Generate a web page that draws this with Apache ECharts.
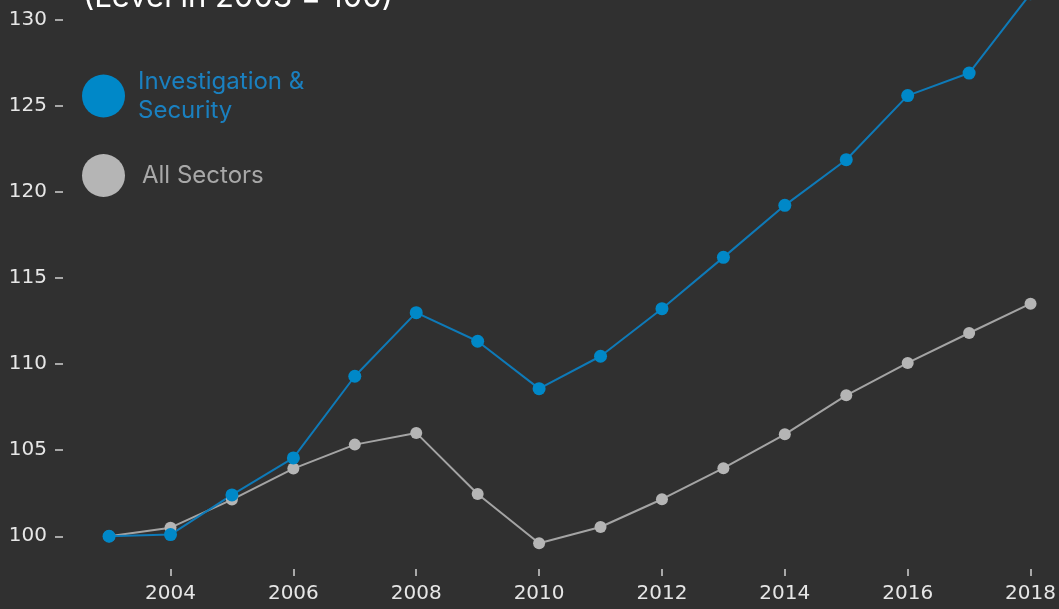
<!DOCTYPE html>
<html>
<head>
<meta charset="utf-8">
<script src="https://cdn.jsdelivr.net/npm/echarts@6/dist/echarts.min.js"></script>
<style>
html,body{margin:0;padding:0;background:#303030;}
#chart{width:1059px;height:609px;}
</style>
</head>
<body>
<div id="chart"></div>
<script>
const years = [2003,2004,2005,2006,2007,2008,2009,2010,2011,2012,2013,2014,2015,2016,2017,2018];
const investigationSecurity = [100,100.1,102.4,104.55,109.29,112.98,111.32,108.57,110.45,113.21,116.19,119.21,121.86,125.58,126.89,131.5];
const allSectors = [100,100.5,102.13,103.93,105.32,106.0,102.45,99.6,100.54,102.15,103.95,105.92,108.18,110.06,111.8,113.5];
const seriesNames = ['Investigation & Security','All Sectors'];
const xTicks = [2004,2006,2008,2010,2012,2014,2016,2018];
const yTicks = [100,105,110,115,120,125,130];
const subtitle = '(Level in 2003 = 100)';

const BLUE = '#0088c8', BLUE_LINE = '#0e7ab8', GRAY = '#b5b5b5', GRAY_LINE = '#a4a4a4';
const pairs = arr => years.map((y,i)=>[y, arr[i]]);

const chart = echarts.init(document.getElementById('chart'));
chart.setOption({
  backgroundColor:'#303030',
  animation:false,
  grid:{left:63, right:0, top:0, bottom:40},
  graphic:[{
    type:'text', x:83, y:13,
    style:{text:subtitle, fill:'#ffffff', font:'31px Inter', verticalAlign:'bottom'}
  }],
  legend:[{
    left:82, top:66, padding:0, orient:'vertical',
    itemWidth:43, itemHeight:43, icon:'circle',
    data:[{name:seriesNames[0], itemStyle:{color:BLUE}, textStyle:{color:'#1a80c0'}}],
    formatter: n => n.replace('& ', '&\n'),
    textStyle:{fontFamily:'Inter', fontSize:24, lineHeight:29, padding:[2,0,0,8]}
  },{
    left:82, top:154, padding:0, orient:'vertical',
    itemWidth:43, itemHeight:43, icon:'circle',
    data:[{name:seriesNames[1], itemStyle:{color:GRAY}, textStyle:{color:'#a8a8a8'}}],
    textStyle:{fontFamily:'Inter', fontSize:24, lineHeight:29, padding:[12,0,0,12]}
  }],
  xAxis:{
    type:'value', min:2002.25, max:2018.445,
    axisLine:{show:false}, splitLine:{show:false},
    axisTick:{show:true, length:7, customValues:xTicks, lineStyle:{color:'#cfcfcf', width:1.5}},
    axisLabel:{customValues:xTicks, color:'#e6e6e6', fontFamily:'"DejaVu Sans"', fontSize:20, margin:15,
      formatter: v => String(v)}
  },
  yAxis:{
    type:'value', min:98.1, max:131.13,
    axisLine:{show:false}, splitLine:{show:false},
    axisTick:{show:true, length:8, customValues:yTicks, lineStyle:{color:'#cfcfcf', width:1.5}},
    axisLabel:{customValues:yTicks, color:'#e6e6e6', fontFamily:'"DejaVu Sans"', fontSize:20, margin:16,
      padding:[5,0,0,0]}
  },
  series:[{
    name:seriesNames[1], type:'line', data:pairs(allSectors), clip:false,
    symbol:'circle', symbolSize:12,
    lineStyle:{color:GRAY_LINE, width:2}, itemStyle:{color:GRAY}
  },{
    name:seriesNames[0], type:'line', data:pairs(investigationSecurity), clip:false,
    symbol:'circle', symbolSize:13,
    lineStyle:{color:BLUE_LINE, width:2}, itemStyle:{color:BLUE}
  }]
});
</script>
</body>
</html>
